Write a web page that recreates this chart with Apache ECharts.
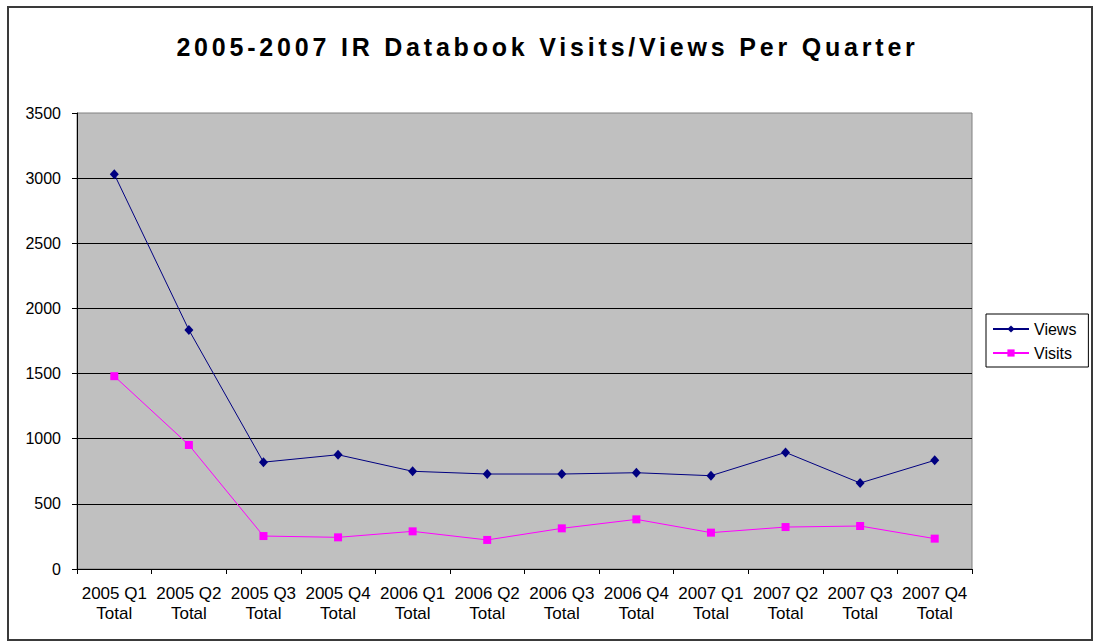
<!DOCTYPE html>
<html>
<head>
<meta charset="utf-8">
<title>IR Databook Visits/Views</title>
<script src="https://cdn.jsdelivr.net/npm/echarts@6/dist/echarts.min.js"></script>
<style>
  html, body { margin: 0; padding: 0; background: #fff; }
  #chart { width: 1095px; height: 642px; }
  /* wide tracking for the headline */
  #chart svg text[style*="25px"] { letter-spacing: 3.8px; }
</style>
</head>
<body>
<div id="chart"></div>
<script>
// Quarter labels (two-line axis labels)
const quarters = ['2005 Q1', '2005 Q2', '2005 Q3', '2005 Q4',
                  '2006 Q1', '2006 Q2', '2006 Q3', '2006 Q4',
                  '2007 Q1', '2007 Q2', '2007 Q3', '2007 Q4'];
const categories = quarters.map(q => q + '\nTotal');

// Page views and visits per quarter
const views  = [3030, 1835, 820, 877, 750, 729, 729, 739, 716, 895, 660, 834];
const visits = [1480, 952, 253, 243, 289, 223, 312, 381, 279, 322, 330, 233];

// Value axis ticks
const yTicks = [0, 500, 1000, 1500, 2000, 2500, 3000, 3500];

const titleText = '2005-2007 IR Databook Visits/Views Per Quarter';
const FONT = "'Liberation Sans', Arial, sans-serif";

const chart = echarts.init(document.getElementById('chart'), null, { renderer: 'svg' });

const option = {
  animation: false,
  backgroundColor: '#ffffff',
  textStyle: { fontFamily: FONT },
  title: {
    text: titleText,
    left: 'center',
    top: 34,
    padding: 0,
    textStyle: { fontFamily: FONT, fontSize: 25, fontWeight: 'bold', color: '#000' }
  },
  legend: {
    orient: 'vertical',
    left: 986,
    top: 314,
    padding: [6.5, 12, 5.5, 6],
    itemGap: 7,
    itemWidth: 36,
    itemHeight: 9,
    borderColor: '#000',
    borderWidth: 1,
    backgroundColor: '#fff',
    textStyle: { fontFamily: FONT, fontSize: 16, color: '#000', lineHeight: 17 },
    data: ['Views', 'Visits']
  },
  grid: {
    left: 77,
    right: 123,
    top: 113,
    bottom: 73,
    containLabel: false,
    outerBoundsMode: 'none',
    show: true,
    backgroundColor: '#C0C0C0',
    borderColor: '#808080',
    borderWidth: 1
  },
  xAxis: {
    type: 'category',
    data: categories,
    boundaryGap: true,
    axisLine: { show: true, lineStyle: { color: '#000', width: 1 } },
    axisTick: { show: true, length: 5, alignWithLabel: false, lineStyle: { color: '#000' } },
    axisLabel: {
      interval: 0,
      margin: 14,
      fontFamily: FONT,
      fontSize: 17,
      lineHeight: 20,
      color: '#000'
    },
    splitLine: { show: false }
  },
  yAxis: {
    type: 'value',
    min: yTicks[0],
    max: yTicks[yTicks.length - 1],
    interval: yTicks[1] - yTicks[0],
    axisLine: { show: true, lineStyle: { color: '#000', width: 1 } },
    axisTick: { show: true, length: 5, lineStyle: { color: '#000' } },
    axisLabel: {
      margin: 16,
      fontFamily: FONT,
      fontSize: 16,
      color: '#000',
      formatter: v => String(v)
    },
    splitLine: { show: true, showMaxLine: false, lineStyle: { color: '#000', width: 1 } }
  },
  series: [
    {
      name: 'Views',
      type: 'line',
      data: views,
      symbol: 'diamond',
      symbolSize: [9, 10],
      showAllSymbol: true,
      color: '#000080',
      lineStyle: { color: '#000080', width: 1 },
      itemStyle: { color: '#000080' },
      z: 3
    },
    {
      name: 'Visits',
      type: 'line',
      data: visits,
      symbol: 'rect',
      symbolSize: 8,
      showAllSymbol: true,
      color: '#FF00FF',
      lineStyle: { color: '#FF00FF', width: 1 },
      itemStyle: { color: '#FF00FF' },
      z: 2
    }
  ],
  graphic: [
    {
      type: 'rect',
      silent: true,
      z: -10,
      shape: { x: 8, y: 7, width: 1084, height: 633 },
      style: { fill: 'none', stroke: '#3a3a3a', lineWidth: 2 }
    }
  ]
};

chart.setOption(option);

// fallback: apply the headline tracking directly on the rendered node
function trackTitle() {
  document.querySelectorAll('#chart svg text').forEach(t => {
    if (t.textContent === titleText) t.setAttribute('letter-spacing', '3.8');
  });
}
trackTitle();
chart.on('finished', trackTitle);
</script>
</body>
</html>
